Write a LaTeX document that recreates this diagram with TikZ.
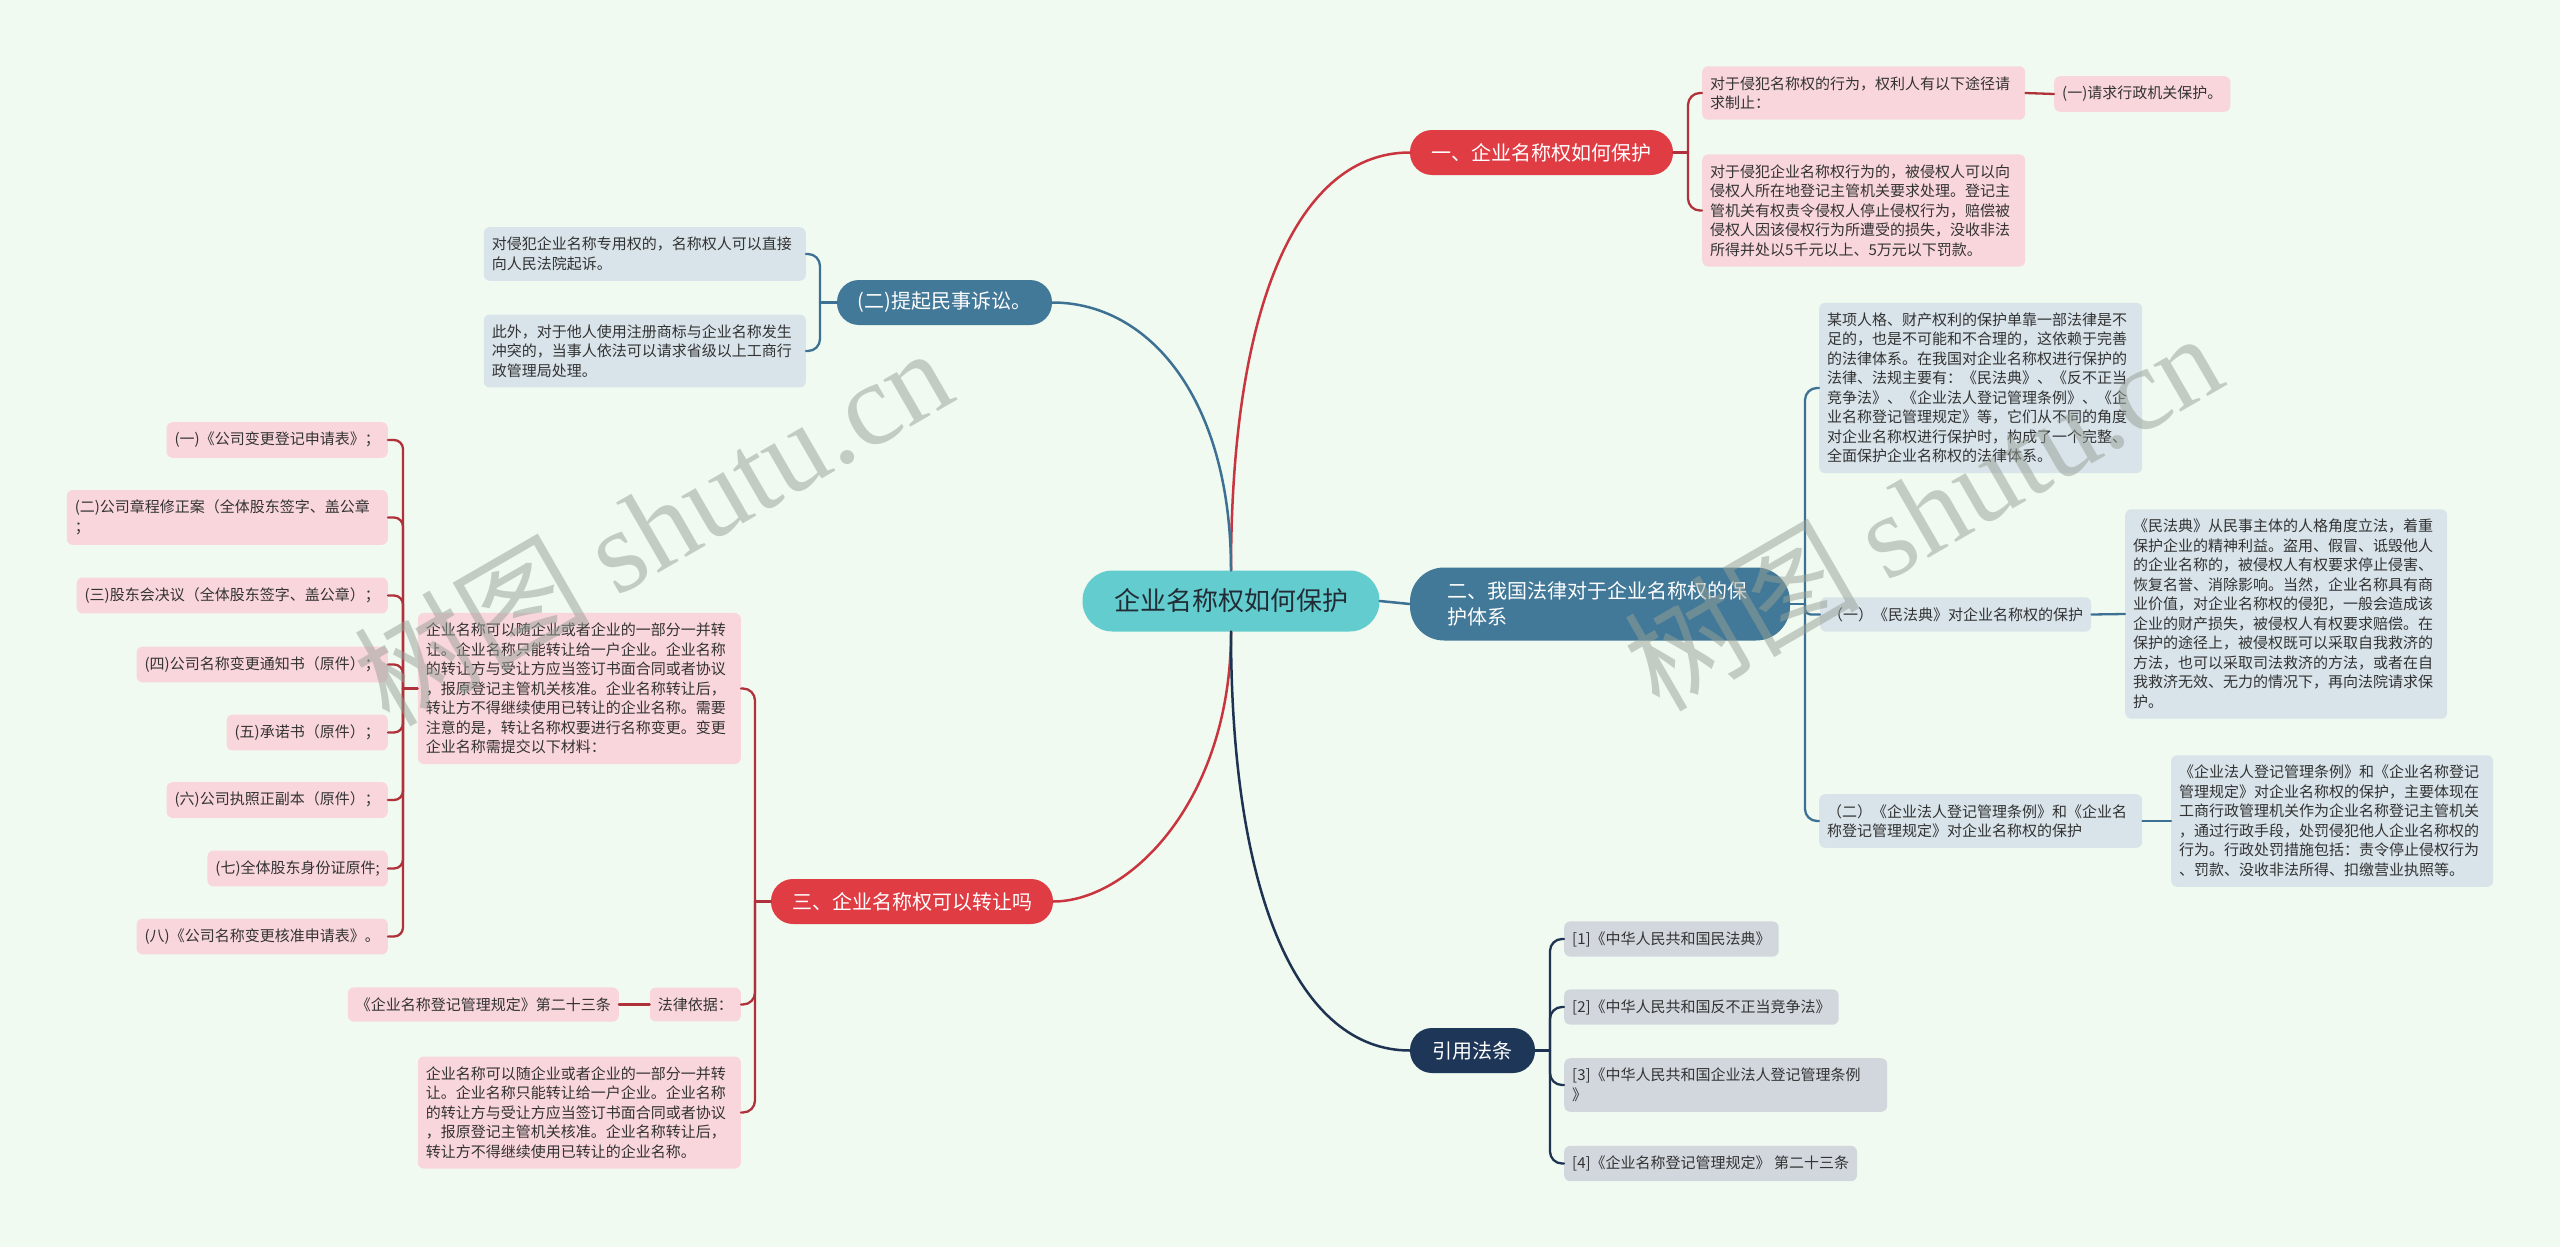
\documentclass[tikz,border=0pt]{standalone}
\usepackage{fontspec}
\setmainfont{Noto Sans CJK SC}
\newfontfamily\wmlatin{Liberation Serif}
\newcommand\bfnt{\fontsize{15pt}{19.5pt}\selectfont}
\newcommand\brfnt{\fontsize{20pt}{26pt}\selectfont}
\newcommand\cfnt{\fontsize{26pt}{30pt}\selectfont}
\definecolor{bgc}{RGB}{240,250,240}
\definecolor{tealc}{RGB}{99,204,207}
\definecolor{redc}{RGB}{224,60,68}
\definecolor{bluec}{RGB}{66,120,152}
\definecolor{navyc}{RGB}{30,54,88}
\definecolor{pinkc}{RGB}{249,214,220}
\definecolor{lbluec}{RGB}{216,227,234}
\definecolor{greyc}{RGB}{210,215,222}
\definecolor{txtc}{RGB}{51,51,51}
\definecolor{redline}{RGB}{201,53,63}
\definecolor{redsub}{RGB}{176,49,58}
\definecolor{blueline}{RGB}{61,113,147}
\definecolor{navyline}{RGB}{30,50,82}
\definecolor{wmc}{RGB}{150,160,150}
\begin{document}
\begin{tikzpicture}[x=1pt,y=-1pt,
  box/.style={rounded corners=6pt, inner xsep=8pt, inner ysep=10pt, align=left, font=\bfnt, text=txtc},
  pinkbox/.style={box, fill=pinkc},
  bluebox/.style={box, fill=lbluec},
  greybox/.style={box, fill=greyc},
  pill/.style={rounded corners=22pt, minimum height=45pt, font=\brfnt, text=white, inner sep=0pt},
  link/.style={line width=2.5pt, line cap=round},
  sublink/.style={line width=2.3pt, line cap=round, rounded corners=12pt},
  wm/.style={text=wmc, text opacity=0.5, rotate=30, font=\fontsize{118pt}{118pt}\selectfont}
]
\useasboundingbox[fill=bgc] (0,0) rectangle (2560,1247);

% ---------- nodes ----------
\node[fill=tealc, rounded corners=30pt, minimum width=297pt, minimum height=61pt, font=\cfnt, text={rgb,255:red,34;green,44;blue,52}, inner sep=0pt] (c) at (1231,601) {企业名称权如何保护};

\node[pill, fill=redc, minimum width=263pt] (b1) at (1541.5,152.5) {一、企业名称权如何保护};
\node[pill, fill=bluec, minimum width=215pt] (b2) at (944.5,302.5) {(二)提起民事诉讼。};
\node[pill, fill=bluec, minimum width=380pt, minimum height=73pt, rounded corners=34pt, text width=306pt, align=left] (b3) at (1600,604) {二、我国法律对于企业名称权的保\\护体系};
\node[pill, fill=redc, minimum width=282pt] (b4) at (912,901.5) {三、企业名称权可以转让吗};
\node[pill, fill=navyc, minimum width=125pt] (b5) at (1472.5,1050.5) {引用法条};

% branch 1 children
\node[pinkbox, anchor=west, text width=307pt] (A) at (1702,93) {对于侵犯名称权的行为，权利人有以下途径请\\求制止：};
\node[pinkbox, anchor=west] (A1) at (2054,94) {(一)请求行政机关保护。};
\node[pinkbox, anchor=west, text width=307pt] (B) at (1702,210.5) {对于侵犯企业名称权行为的，被侵权人可以向\\侵权人所在地登记主管机关要求处理。登记主\\管机关有权责令侵权人停止侵权行为，赔偿被\\侵权人因该侵权行为所遭受的损失，没收非法\\所得并处以5千元以上、5万元以下罚款。};

% branch 2 children
\node[bluebox, anchor=east, text width=306pt] (C1) at (806,254) {对侵犯企业名称专用权的，名称权人可以直接\\向人民法院起诉。};
\node[bluebox, anchor=east, text width=306pt] (C2) at (806,351) {此外，对于他人使用注册商标与企业名称发生\\冲突的，当事人依法可以请求省级以上工商行\\政管理局处理。};

% branch 3 children
\node[bluebox, anchor=west, text width=307pt] (D) at (1819,388) {某项人格、财产权利的保护单靠一部法律是不\\足的，也是不可能和不合理的，这依赖于完善\\的法律体系。在我国对企业名称权进行保护的\\法律、法规主要有：《民法典》、《反不正当\\竞争法》、《企业法人登记管理条例》、《企\\业名称登记管理规定》等，它们从不同的角度\\对企业名称权进行保护时，构成了一个完整、\\全面保护企业名称权的法律体系。};
\node[bluebox, anchor=west] (E) at (1820,614.5) {（一）《民法典》对企业名称权的保护};
\node[bluebox, anchor=west, text width=306pt] (E1) at (2125,614) {《民法典》从民事主体的人格角度立法，着重\\保护企业的精神利益。盗用、假冒、诋毁他人\\的企业名称的，被侵权人有权要求停止侵害、\\恢复名誉、消除影响。当然，企业名称具有商\\业价值，对企业名称权的侵犯，一般会造成该\\企业的财产损失，被侵权人有权要求赔偿。在\\保护的途径上，被侵权既可以采取自我救济的\\方法，也可以采取司法救济的方法，或者在自\\我救济无效、无力的情况下，再向法院请求保\\护。};
\node[bluebox, anchor=west, text width=307pt] (F) at (1819,821) {（二）《企业法人登记管理条例》和《企业名\\称登记管理规定》对企业名称权的保护};
\node[bluebox, anchor=west, text width=306pt] (F1) at (2171,821) {《企业法人登记管理条例》和《企业名称登记\\管理规定》对企业名称权的保护，主要体现在\\工商行政管理机关作为企业名称登记主管机关\\，通过行政手段，处罚侵犯他人企业名称权的\\行为。行政处罚措施包括：责令停止侵权行为\\、罚款、没收非法所得、扣缴营业执照等。};

% branch 4 children
\node[pinkbox, anchor=east, text width=307pt] (G) at (741,688.5) {企业名称可以随企业或者企业的一部分一并转\\让。企业名称只能转让给一户企业。企业名称\\的转让方与受让方应当签订书面合同或者协议\\，报原登记主管机关核准。企业名称转让后，\\转让方不得继续使用已转让的企业名称。需要\\注意的是，转让名称权要进行名称变更。变更\\企业名称需提交以下材料：};
\node[pinkbox, anchor=east] (H) at (741,1004.5) {法律依据：};
\node[pinkbox, anchor=east] (H1) at (619,1004.5) {《企业名称登记管理规定》第二十三条};
\node[pinkbox, anchor=east, text width=307pt] (I) at (741,1112.5) {企业名称可以随企业或者企业的一部分一并转\\让。企业名称只能转让给一户企业。企业名称\\的转让方与受让方应当签订书面合同或者协议\\，报原登记主管机关核准。企业名称转让后，\\转让方不得继续使用已转让的企业名称。};

% material items
\node[pinkbox, anchor=east] (g1) at (388,440) {(一)《公司变更登记申请表》；};
\node[pinkbox, anchor=east, text width=305pt] (g2) at (388,517.5) {(二)公司章程修正案（全体股东签字、盖公章\\；};
\node[pinkbox, anchor=east] (g3) at (388,595.5) {(三)股东会决议（全体股东签字、盖公章）；};
\node[pinkbox, anchor=east] (g4) at (388,664.5) {(四)公司名称变更通知书（原件）；};
\node[pinkbox, anchor=east] (g5) at (388,732.5) {(五)承诺书（原件）；};
\node[pinkbox, anchor=east] (g6) at (388,800) {(六)公司执照正副本（原件）；};
\node[pinkbox, anchor=east] (g7) at (388,868.5) {(七)全体股东身份证原件;};
\node[pinkbox, anchor=east] (g8) at (388,936.5) {(八)《公司名称变更核准申请表》。};

% branch 5 children
\node[greybox, anchor=west] (R1) at (1564,939) {[1]《中华人民共和国民法典》};
\node[greybox, anchor=west] (R2) at (1564,1007) {[2]《中华人民共和国反不正当竞争法》};
\node[greybox, anchor=west, text width=307pt] (R3) at (1564,1085) {[3]《中华人民共和国企业法人登记管理条例\\》};
\node[greybox, anchor=west] (R4) at (1564,1163.5) {[4]《企业名称登记管理规定》 第二十三条};

% ---------- connectors ----------
\draw[link, redline] (c.north) .. controls (1231,300) and (1300,152.5) .. (b1.west);
\draw[link, blueline] (c.north) .. controls (1231,400) and (1150,302.5) .. (b2.east);
\draw[link, blueline] (c.east) -- (b3.west);
\draw[link, redline] (c.south) .. controls (1231,800) and (1130,901.5) .. (b4.east);
\draw[link, navyline] (c.south) .. controls (1231,900) and (1300,1050.5) .. (b5.west);

% branch 1
\coordinate (j1) at (1688,152.5);
\draw[sublink, redsub] (b1.east) -- (j1);
\draw[sublink, redsub] (j1) -- (j1 |- A.west) -- (A.west);
\draw[sublink, redsub] (j1) -- (j1 |- B.west) -- (B.west);
\draw[sublink, redsub] (A.east) -- (A1.west);

% branch 2
\coordinate (j2) at (820,302.5);
\draw[sublink, blueline] (b2.west) -- (j2);
\draw[sublink, blueline] (j2) -- (j2 |- C1.east) -- (C1.east);
\draw[sublink, blueline] (j2) -- (j2 |- C2.east) -- (C2.east);

% branch 3
\coordinate (j3) at (1805,604);
\draw[sublink, blueline] (b3.east) -- (j3);
\draw[sublink, blueline] (j3) -- (j3 |- D.west) -- (D.west);
\draw[sublink, blueline, rounded corners=6pt] (j3) -- (j3 |- E.west) -- (E.west);
\draw[sublink, blueline] (j3) -- (j3 |- F.west) -- (F.west);
\draw[sublink, blueline] (E.east) -- (E1.west);
\draw[sublink, blueline] (F.east) -- (F1.west);

% branch 4
\coordinate (j4) at (755,901.5);
\draw[sublink, redsub] (b4.west) -- (j4);
\draw[sublink, redsub] (j4) -- (j4 |- G.east) -- (G.east);
\draw[sublink, redsub] (j4) -- (j4 |- H.east) -- (H.east);
\draw[sublink, redsub] (j4) -- (j4 |- I.east) -- (I.east);
\draw[sublink, redsub] (H.west) -- (H1.east);

% materials
\coordinate (jg) at (403,688.5);
\draw[sublink, redsub] (G.west) -- (jg);
\foreach \n in {g1,g2,g3,g4,g5,g6,g7,g8}
  \draw[sublink, redsub, rounded corners=9pt] (jg) -- (jg |- \n.east) -- (\n.east);

% branch 5
\coordinate (j5) at (1550,1050.5);
\draw[sublink, navyline] (b5.east) -- (j5);
\foreach \n in {R1,R2,R3,R4}
  \draw[sublink, navyline] (j5) -- (j5 |- \n.west) -- (\n.west);

% ---------- watermark ----------
\node[wm] (wm1) at (652,525) {树图 {\wmlatin shutu.cn}};
\node[wm] (wm2) at (1922,510) {树图 {\wmlatin shutu.cn}};
\end{tikzpicture}
\end{document}
